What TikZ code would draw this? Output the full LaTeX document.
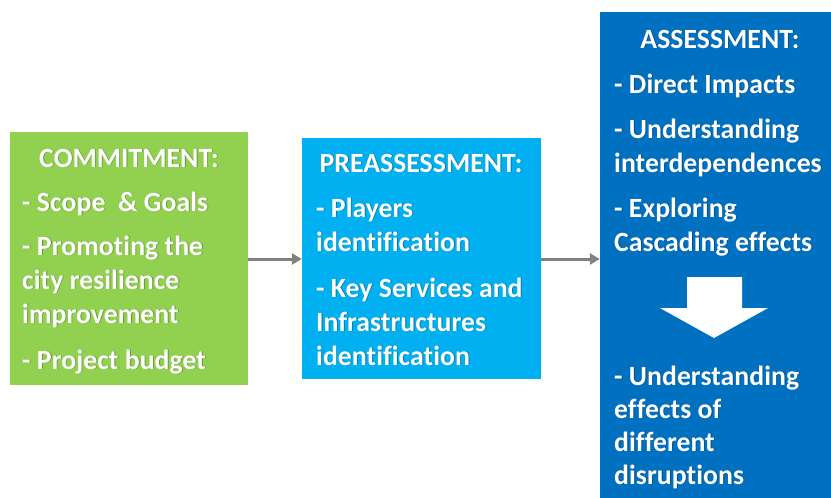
\documentclass[tikz,border=0pt]{standalone}
\usepackage{fontspec}
\setmainfont{Carlito}[Ligatures={NoCommon}]
\usetikzlibrary{arrows.meta}
\definecolor{cgreen}{HTML}{92D050}
\definecolor{ccyan}{HTML}{00B0F0}
\definecolor{cblue}{HTML}{0070C0}
\definecolor{garrow}{HTML}{808080}
\newcommand\shadowline[4]{%
  \node[#1, text=black, text opacity=0.28, xshift=0.9pt, yshift=-0.9pt] (#2s) at (#3) {#4};
  \node[#1] (#2) at (#3) {#4};}
\begin{document}
\begin{tikzpicture}[x=1pt,y=-1pt,
  stagebox/.style={draw=none, inner sep=0pt},
  txt/.style={text=white, font=\bfseries\fontsize{27.8}{33}\selectfont, inner sep=0pt, anchor=base west},
  hdr/.style={txt, anchor=base},
  link/.style={draw=garrow, line width=3pt, -{Triangle[length=10pt,width=11pt]}}]
\useasboundingbox (0,0) rectangle (831,498);
\fill[white] (0,0) rectangle (831,498);
% boxes
\node[stagebox, fill=cgreen, minimum width=238pt, minimum height=253pt] (commit) at (129,258.5) {};
\node[stagebox, fill=ccyan, minimum width=239pt, minimum height=241pt] (pre) at (421.5,258.5) {};
\node[stagebox, fill=cblue, minimum width=231pt, minimum height=486pt] (assess) at (715.5,255) {};
% connectors
\coordinate (ay) at (0,259);
\draw[link] (commit.east |- ay) -- (pre.west |- ay);
\draw[link] (pre.east |- ay) -- (assess.west |- ay);
% white block arrow
\fill[white] (687,277) -- (742,277) -- (742,308) -- (768,308) -- (714,338) -- (660,308) -- (687,308) -- cycle;
% green texts
\shadowline{hdr}{g0}{129,167}{COMMITMENT:}
\shadowline{txt}{g1}{22,211}{- Scope~ \& Goals}
\shadowline{txt}{g2}{22,255}{- Promoting the}
\shadowline{txt}{g3}{22,289}{city resilience}
\shadowline{txt}{g4}{22,323}{improvement}
\shadowline{txt}{g5}{22,369}{- Project budget}
% cyan texts
\shadowline{hdr}{c0}{421,172}{PREASSESSMENT:}
\shadowline{txt}{c1}{316,217}{- Players}
\shadowline{txt}{c2}{316,251}{identification}
\shadowline{txt}{c3}{316,297}{- Key Services and}
\shadowline{txt}{c4}{316,331}{Infrastructures}
\shadowline{txt}{c5}{316,365}{identification}
% blue texts
\shadowline{hdr}{b0}{720,48}{ASSESSMENT:}
\shadowline{txt}{b1}{614,93}{- Direct Impacts}
\shadowline{txt}{b2}{614,138}{- Understanding}
\shadowline{txt}{b3}{614,172}{interdependences}
\shadowline{txt}{b4}{614,217}{- Exploring}
\shadowline{txt}{b5}{614,251}{Cascading effects}
\shadowline{txt}{b6}{614,385}{- Understanding}
\shadowline{txt}{b7}{614,418}{effects of}
\shadowline{txt}{b8}{614,451}{different}
\shadowline{txt}{b9}{614,484}{disruptions}
\end{tikzpicture}
\end{document}
